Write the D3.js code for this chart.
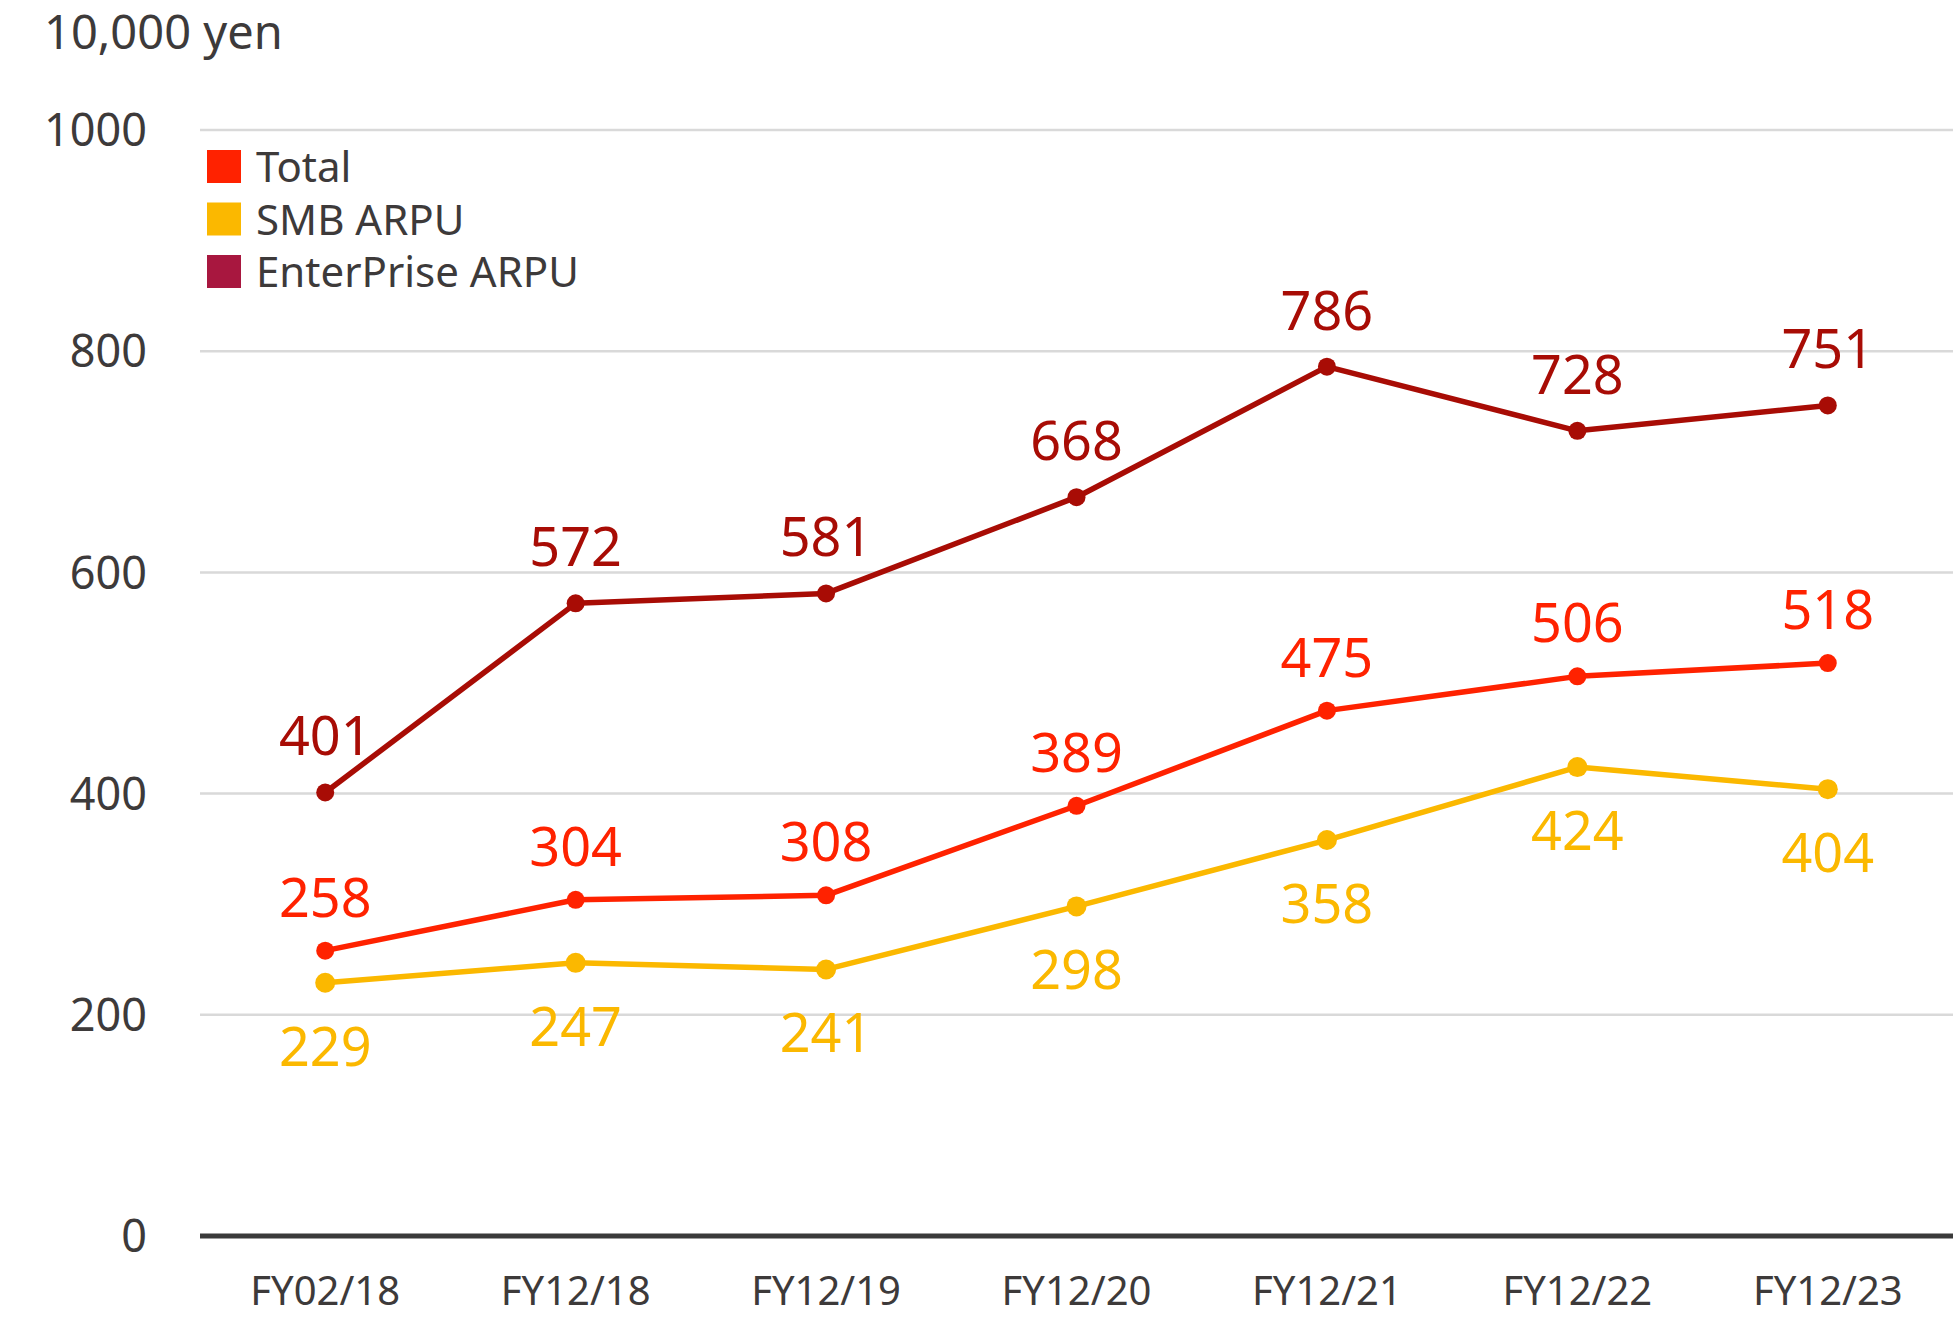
<!DOCTYPE html>
<meta charset="utf-8">
<style>

body {
  margin: 0;
  background: #fff;
}

text {
  font-family: "Noto Sans", sans-serif;
}

</style>
<body>
<script src="https://cdnjs.cloudflare.com/ajax/libs/d3/7.8.5/d3.min.js"></script>
<script>

var years = ["FY02/18", "FY12/18", "FY12/19", "FY12/20", "FY12/21", "FY12/22", "FY12/23"],
    total = [258, 304, 308, 389, 475, 506, 518],
    smb = [229, 247, 241, 298, 358, 424, 404],
    enterprise = [401, 572, 581, 668, 786, 728, 751],
    yTicks = [0, 200, 400, 600, 800, 1000];

var width = 1957,
    height = 1318,
    margin = {top: 130, right: 4, bottom: 82, left: 200},
    textColor = "#3d3a3a";

var series = [
  {name: "Total", values: total, color: "#ff2200", swatch: "#ff2200", r: 9, labelDy: -34},
  {name: "SMB ARPU", values: smb, color: "#fbb800", swatch: "#fbb800", r: 10, labelDy: 83},
  {name: "EnterPrise ARPU", values: enterprise, color: "#a80c05", swatch: "#a8173f", r: 9, labelDy: -37}
];

var x = d3.scalePoint()
    .domain(years)
    .range([margin.left, width - margin.right])
    .padding(0.5);

var y = d3.scaleLinear()
    .domain([0, 1000])
    .range([height - margin.bottom, margin.top]);

var svg = d3.select("body").append("svg")
    .attr("width", width)
    .attr("height", height);

// grid lines
svg.append("g")
  .selectAll("line")
    .data(yTicks.filter(function(d) { return d > 0; }))
  .enter().append("line")
    .attr("x1", margin.left)
    .attr("x2", width - margin.right)
    .attr("y1", y)
    .attr("y2", y)
    .attr("stroke", "#d9d9d9")
    .attr("stroke-width", 2.5);

// baseline
svg.append("line")
    .attr("x1", margin.left)
    .attr("x2", width - margin.right)
    .attr("y1", y(0))
    .attr("y2", y(0))
    .attr("stroke", "#3a3a3a")
    .attr("stroke-width", 5);

// y tick labels
svg.append("g")
  .selectAll("text")
    .data(yTicks)
  .enter().append("text")
    .attr("x", 147)
    .attr("y", y)
    .attr("dy", "0.36em")
    .attr("text-anchor", "end")
    .attr("font-size", 45)
    .attr("fill", textColor)
    .text(function(d) { return d; });

// x labels
svg.append("g")
  .selectAll("text")
    .data(years)
  .enter().append("text")
    .attr("x", x)
    .attr("y", 1305)
    .attr("text-anchor", "middle")
    .attr("font-size", 40)
    .attr("fill", textColor)
    .text(function(d) { return d; });

svg.append("text")
    .attr("x", 44)
    .attr("y", 49)
    .attr("font-size", 47)
    .attr("fill", textColor)
    .text("10,000 yen");

var line = d3.line()
    .x(function(d, i) { return x(years[i]); })
    .y(function(d) { return y(d); });

series.forEach(function(s) {
  var g = svg.append("g");

  g.append("path")
      .datum(s.values)
      .attr("d", line)
      .attr("fill", "none")
      .attr("stroke", s.color)
      .attr("stroke-width", 5.5)
      .attr("stroke-linejoin", "round");

  g.selectAll("circle")
      .data(s.values)
    .enter().append("circle")
      .attr("cx", function(d, i) { return x(years[i]); })
      .attr("cy", y)
      .attr("r", s.r)
      .attr("fill", s.color);

  g.selectAll("text")
      .data(s.values)
    .enter().append("text")
      .attr("x", function(d, i) { return x(years[i]); })
      .attr("y", function(d) { return y(d) + s.labelDy; })
      .attr("text-anchor", "middle")
      .attr("font-size", 54)
      .attr("fill", s.color)
      .text(function(d) { return d; });
});

// legend
var legend = svg.append("g")
    .attr("transform", "translate(207,150)");

var entries = legend.selectAll("g")
    .data(series)
  .enter().append("g")
    .attr("transform", function(d, i) { return "translate(0," + (i * 52.5) + ")"; });

entries.append("rect")
    .attr("width", 34)
    .attr("height", 33)
    .attr("fill", function(d) { return d.swatch; });

entries.append("text")
    .attr("x", 49)
    .attr("y", 17)
    .attr("dy", "0.36em")
    .attr("font-size", 42)
    .attr("fill", textColor)
    .text(function(d) { return d.name; });

</script>
